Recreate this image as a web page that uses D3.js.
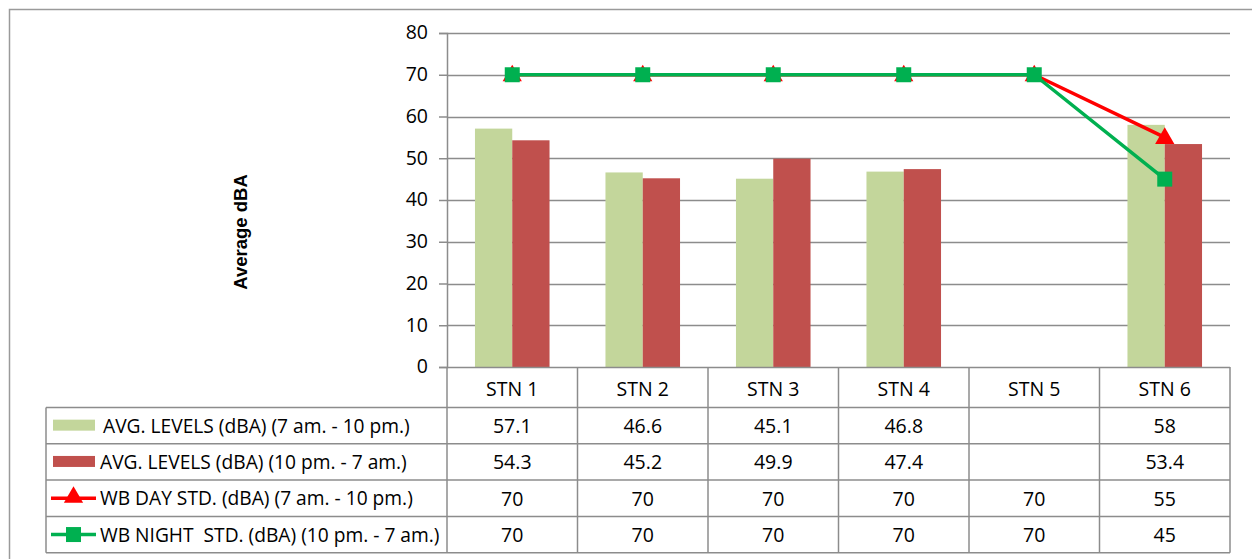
<!DOCTYPE html>
<html>
<head>
<meta charset="utf-8">
<script src="https://cdn.jsdelivr.net/npm/d3@7"></script>
<style>
  html, body { margin: 0; padding: 0; background: #fff; }
  svg { display: block; }
  text { font-family: "Open Sans", Lato, sans-serif; fill: #000; }
</style>
</head>
<body>
<svg id="chart" width="1252" height="559"></svg>
<script>
// Stations and measured / standard noise levels (dBA)
const stations = ["STN 1", "STN 2", "STN 3", "STN 4", "STN 5", "STN 6"];
const avgDay   = [57.1, 46.6, 45.1, 46.8, null, 58];
const avgNight = [54.3, 45.2, 49.9, 47.4, null, 53.4];
const stdDay   = [70, 70, 70, 70, 70, 55];
const stdNight = [70, 70, 70, 70, 70, 45];
const yTicks   = [0, 10, 20, 30, 40, 50, 60, 70, 80];

const seriesNames = [
  "AVG. LEVELS (dBA) (7 am. - 10 pm.)",
  "AVG. LEVELS (dBA) (10 pm. - 7 am.)",
  "WB DAY STD. (dBA) (7 am. - 10 pm.)",
  "WB NIGHT  STD. (dBA) (10 pm. - 7 am.)"
];
const seriesValues = [avgDay, avgNight, stdDay, stdNight];
const seriesColors = ["#C3D69B", "#C0504D", "#FF0000", "#00B050"];

const svg = d3.select("#chart");
const gridColor = "#8c8c8c";
const fontMain = "'Open Sans', Lato, sans-serif";
const numSize = 19.5;

// Plot geometry
const plotLeft = 447, plotRight = 1230, plotTop = 33, plotBottom = 367;
const tableLeft = 46;
const headerBottom = 407.5;
const rowH = 36.3;

const x = d3.scaleBand().domain(stations).range([plotLeft, plotRight]).padding(0);
const barW = x.bandwidth() / 3.5;
const xBar = d3.scaleBand().domain([0, 1])
  .range([(x.bandwidth() - 2 * barW) / 2, (x.bandwidth() + 2 * barW) / 2]).padding(0);
const y = d3.scaleLinear().domain([0, 80]).range([plotBottom, plotTop]);

// Outer chart frame
svg.append("path")
  .attr("d", `M9.5,${559}V9.5H${1252}`)
  .attr("fill", "none").attr("stroke", "#9a9a9a").attr("stroke-width", 1.5);

// Horizontal gridlines
svg.append("g").selectAll("line").data(yTicks.filter(d => d > 0)).join("line")
  .attr("x1", plotLeft).attr("x2", plotRight)
  .attr("y1", d => Math.round(y(d)) + 0.5).attr("y2", d => Math.round(y(d)) + 0.5)
  .attr("stroke", gridColor).attr("stroke-width", 1.5);

// Y axis
const yAxis = d3.axisLeft(y).tickValues(yTicks).tickSize(8).tickPadding(11);
const gy = svg.append("g").attr("transform", `translate(${plotLeft},0)`).call(yAxis);
gy.select(".domain").attr("stroke", gridColor).attr("stroke-width", 1.5);
gy.selectAll(".tick line").attr("stroke", gridColor).attr("stroke-width", 1.5);
gy.selectAll(".tick text").attr("font-size", numSize).attr("font-family", fontMain).attr("fill", "#000")
  .attr("dy", "0.3em");

// Y axis title
svg.append("text")
  .attr("transform", `translate(247,232) rotate(-90)`)
  .attr("text-anchor", "middle")
  .style("font-family", "'Liberation Sans', Arial, sans-serif")
  .style("font-weight", "bold").style("font-size", "18.5px")
  .text("Average dBA");

// Bars
[avgDay, avgNight].forEach((vals, si) => {
  svg.append("g").selectAll("rect").data(stations.map((s, i) => ({ s, v: vals[i] })).filter(d => d.v != null))
    .join("rect")
    .attr("x", d => x(d.s) + xBar(si))
    .attr("width", xBar.bandwidth())
    .attr("y", d => y(d.v))
    .attr("height", d => y(0) - y(d.v))
    .attr("fill", seriesColors[si]);
});

// Standard lines
const line = d3.line().x((d, i) => x(stations[i]) + x.bandwidth() / 2).y(d => y(d));
const tri = d3.symbol().type(d3.symbolTriangle).size(160);
const sq = d3.symbol().type(d3.symbolSquare).size(225);
[[stdDay, 2, tri], [stdNight, 3, sq]].forEach(([vals, si, sym]) => {
  svg.append("path").datum(vals).attr("d", line)
    .attr("fill", "none").attr("stroke", seriesColors[si]).attr("stroke-width", 3.5)
    .attr("stroke-linejoin", "round");
  svg.append("g").selectAll("path").data(vals).join("path")
    .attr("transform", (d, i) => `translate(${x(stations[i]) + x.bandwidth() / 2},${y(d) + (si === 2 ? 1 : 0)})`)
    .attr("d", sym).attr("fill", seriesColors[si]);
});

// Data table
const table = svg.append("g");
const tStroke = "#8c8c8c";
const rowTop = i => headerBottom + i * rowH;
table.append("line").attr("x1", plotLeft).attr("x2", plotRight)
  .attr("y1", plotBottom + 0.5).attr("y2", plotBottom + 0.5).attr("stroke", tStroke).attr("stroke-width", 1.5);
d3.range(5).forEach(i => table.append("line").attr("x1", tableLeft).attr("x2", plotRight)
  .attr("y1", rowTop(i)).attr("y2", rowTop(i)).attr("stroke", tStroke).attr("stroke-width", 1.5));
table.append("line").attr("x1", tableLeft).attr("x2", tableLeft).attr("y1", headerBottom).attr("y2", rowTop(4))
  .attr("stroke", tStroke).attr("stroke-width", 1.5);
stations.forEach((s, i) => table.append("line").attr("x1", x(s)).attr("x2", x(s))
  .attr("y1", plotBottom).attr("y2", rowTop(4)).attr("stroke", tStroke).attr("stroke-width", 1.5));
table.append("line").attr("x1", plotRight).attr("x2", plotRight).attr("y1", plotBottom).attr("y2", rowTop(4))
  .attr("stroke", tStroke).attr("stroke-width", 1.5);

// header labels
table.selectAll("text.hdr").data(stations).join("text").attr("class", "hdr")
  .attr("x", d => x(d) + x.bandwidth() / 2).attr("y", (plotBottom + headerBottom) / 2 + 8.5)
  .attr("text-anchor", "middle").attr("font-size", numSize).text(d => d);

// series rows
seriesNames.forEach((name, r) => {
  const cy = rowTop(r) + rowH / 2;
  const g = table.append("g");
  if (r < 2) {
    g.append("rect").attr("x", 53).attr("y", cy - 6).attr("width", 42).attr("height", 11).attr("fill", seriesColors[r]);
  } else {
    g.append("line").attr("x1", 51).attr("x2", 96).attr("y1", cy).attr("y2", cy)
      .attr("stroke", seriesColors[r]).attr("stroke-width", 3.5);
    g.append("path").attr("transform", `translate(73.5,${cy - (r === 2 ? 1 : 0)})`)
      .attr("d", r === 2 ? tri : sq).attr("fill", seriesColors[r]);
  }
  g.append("text").attr("x", r === 0 ? 103 : 100).attr("y", cy + 7).attr("font-size", 19.2)
    .style("white-space", "pre").text(name);
  g.selectAll("text.val").data(seriesValues[r]).join("text").attr("class", "val")
    .attr("x", (d, i) => x(stations[i]) + x.bandwidth() / 2).attr("y", cy + 7.5)
    .attr("text-anchor", "middle").attr("font-size", numSize)
    .text(d => d == null ? "" : d);
});
</script>
</body>
</html>
